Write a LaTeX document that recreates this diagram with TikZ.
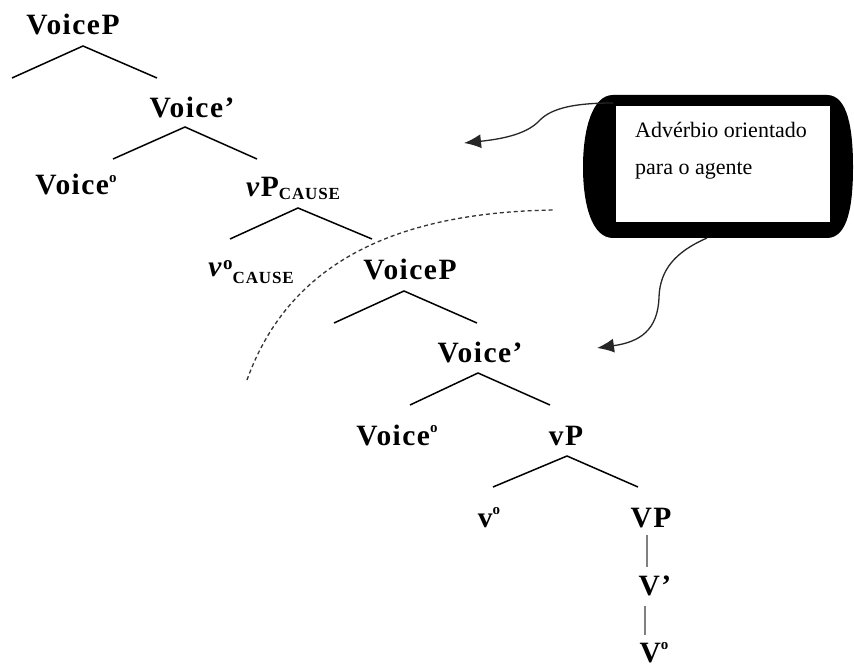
\documentclass[tikz,border=0pt]{standalone}
\usepackage{fontspec}
\setmainfont{Liberation Serif}
\newfontfamily\treefont[LetterSpace=5]{Liberation Serif}
\usetikzlibrary{arrows.meta,calc}

\tikzset{
  cat/.style={anchor=base, inner sep=0pt, font=\treefont\fontsize{29.5}{30}\selectfont\bfseries},
  branch/.style={line width=1.5pt, black},
  unary/.style={line width=1.8pt, black!50},
  boundary/.style={line width=1.3pt, black!80, dash pattern=on 4pt off 3pt},
  pointer/.style={line width=1.3pt, black!85, -{Latex[length=17pt,width=14pt]}},
  note/.style={anchor=base west, inner sep=0pt, font=\fontsize{22}{24}\selectfont}
}
\newcommand{\subcause}[1]{\raisebox{-#1}{\fontsize{17}{17}\selectfont CAUSE}}
\newcommand{\headmark}{\raisebox{12.5pt}{\fontsize{15}{15}\selectfont\bfseries o}}

\begin{document}
\begin{tikzpicture}[x=1pt,y=-1pt]
\useasboundingbox (0,0) rectangle (854,668);
\fill[white] (0,0) rectangle (854,668);

% ---- category labels ----
\node[cat] (vcP1)  at (73,35)   {VoiceP};
\node[cat] (vcB1)  at (192,118) {Voice’};
\node[cat] (vcH1)  at (76,195)  {Voice\headmark};
\node[cat] (vPc)   at (293,197) {\textit{v}P\subcause{3pt}};
\node[cat] (vHc)   at (251,277) {\textit{v}\raisebox{7pt}{\fontsize{19}{19}\selectfont o}\subcause{6pt}};
\node[cat] (vcP2)  at (410,280) {VoiceP};
\node[cat] (vcB2)  at (480,362) {Voice’};
\node[cat] (vcH2)  at (397,445) {Voice\headmark};
\node[cat] (vP)    at (566,445) {vP};
\node[cat] (vH)    at (489,527) {v\headmark};
\node[cat] (VP)    at (651,527) {VP};
\node[cat] (VB)    at (655,595) {V’};
\node[cat] (VH)    at (654,662) {V\headmark};

% ---- branch points ----
\coordinate (a1) at (83,46);   \coordinate (l1) at (12,78);   \coordinate (r1) at (157,78);
\coordinate (a2) at (185,127); \coordinate (l2) at (113,159); \coordinate (r2) at (257,159);
\coordinate (a3) at (298,208); \coordinate (l3) at (230,239); \coordinate (r3) at (372,239);
\coordinate (a4) at (404,291); \coordinate (l4) at (334,323); \coordinate (r4) at (477,323);
\coordinate (a5) at (478,373); \coordinate (l5) at (410,405); \coordinate (r5) at (550,405);
\coordinate (a6) at (567,456); \coordinate (l6) at (493,487); \coordinate (r6) at (638,487);

\draw[branch] (l1) -- (a1) -- (r1);
\draw[branch] (l2) -- (a2) -- (r2);
\draw[branch] (l3) -- (a3) -- (r3);
\draw[branch] (l4) -- (a4) -- (r4);
\draw[branch] (l5) -- (a5) -- (r5);
\draw[branch] (l6) -- (a6) -- (r6);

% non-branching projections
\coordinate (u1) at (647,535); \coordinate (u2) at (647,567);
\coordinate (u3) at (645,606); \coordinate (u4) at (645,635);
\draw[unary] (u1) -- (u2);
\draw[unary] (u3) -- (u4);

% ---- phase boundary ----
\coordinate (d1) at (247,380);
\coordinate (d2) at (555,210);
\draw[boundary] (d1) .. controls (290,260) and (400,212) .. (d2);

% ---- callout ----
\fill[black] (613,95) -- (827,95)
  .. controls (848,95) and (853,130) .. (853,167)
  .. controls (853,205) and (848,238) .. (827,238)
  -- (613,238)
  .. controls (592,238) and (583,205) .. (583,167)
  .. controls (583,130) and (592,95) .. (613,95) -- cycle;
\node[fill=white, draw=black, line width=0.6pt, minimum width=215pt, minimum height=117pt, inner sep=0pt]
  (callout) at (722.5,163.5) {};
\node[note] (noteA) at (635,138) {Advérbio orientado};
\node[note] (noteB) at (635,175) {para o agente};

\coordinate (calloutTop) at (613,103);
\coordinate (calloutBot) at (707,238);
\coordinate (t1) at (464,143);
\coordinate (t2) at (597,348);

\draw[pointer] (calloutTop) .. controls (575,103) and (552,108) .. (540,120)
  .. controls (530,131) and (512,138) .. (t1);
\draw[pointer] (calloutBot) .. controls (675,252) and (660,270) .. (659,297)
  .. controls (658,330) and (640,342) .. (t2);
\end{tikzpicture}
\end{document}
